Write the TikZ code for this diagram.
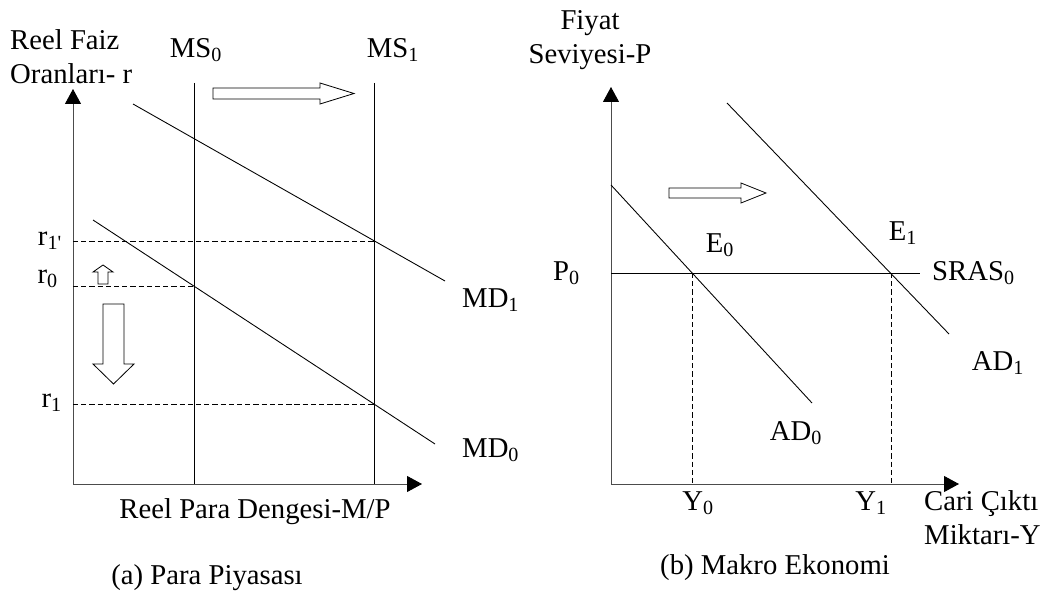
\documentclass[tikz,border=0pt]{standalone}
\usepackage{fontspec}
\setmainfont{Liberation Serif}
\usetikzlibrary{arrows.meta}
\tikzset{
    econ diagram/.style = {x=0.03cm, y=-0.03cm,
                           >={Triangle[length=0.45cm, width=0.48cm, color=black]}},
    axis/.style         = {draw=black!70, line width=0.8pt},
    curve/.style        = {line width=0.75pt},
    guide/.style        = {line width=0.7pt, dash pattern=on 4.5pt off 2.5pt},
    hollow/.style       = {draw, fill=white, line width=0.7pt, line join=miter},
    lbl/.style          = {font=\fontsize{24.5pt}{29pt}\selectfont,
                           inner sep=0pt}
}

\begin{document}
\begin{tikzpicture}[econ diagram]
\useasboundingbox (0,0) rectangle (1062,597);

% ================= (a) money market =================
\coordinate (ayTip) at (73,89);
\coordinate (axTip) at (422,484);
\draw[axis, <->] (ayTip) |- (axTip);

% money supply, before and after the shift
\coordinate (ms0top) at (194,83);  \coordinate (ms0bot) at (194,484);
\coordinate (ms1top) at (374,83);  \coordinate (ms1bot) at (374,484);
\draw[curve] (ms0top) -- (ms0bot);
\draw[curve] (ms1top) -- (ms1bot);
\node[lbl] (MS0) at (196,50) {MS\textsubscript{0}};
\node[lbl] (MS1) at (393,50) {MS\textsubscript{1}};

% money demand
\coordinate (md1a) at (133,104);  \coordinate (md1b) at (445,281);
\coordinate (md0a) at (93,220);   \coordinate (md0b) at (435,444);
\draw[curve] (md1a) -- (md1b);
\draw[curve] (md0a) -- (md0b);
\node[lbl, anchor=west] (MD1) at (462,300) {MD\textsubscript{1}};
\node[lbl, anchor=west] (MD0) at (462,450) {MD\textsubscript{0}};

% equilibrium rates
\coordinate (r1pA) at (73,241);  \coordinate (r1pB) at (374,241);
\coordinate (r0A)  at (73,286);  \coordinate (r0B)  at (194,286);
\coordinate (r1A)  at (73,404);  \coordinate (r1B)  at (374,404);
\draw[guide] (r1pA) -- (r1pB);
\draw[guide] (r0A) -- (r0B);
\draw[guide] (r1A) -- (r1B);
\node[lbl, anchor=east] (r1p) at (62,241) {r\textsubscript{1\textquotesingle}};
\node[lbl, anchor=east] (r0)  at (58,279) {r\textsubscript{0}};
\node[lbl, anchor=east] (r1)  at (62,403) {r\textsubscript{1}};

% shift arrows
\draw[hollow] (213,88) -- (320,88) -- (320,83) -- (354,93.5)
    -- (320,104) -- (320,99) -- (213,99) -- cycle;          % MS0 -> MS1
\draw[hollow] (98,284) -- (98,272) -- (93,272) -- (103,265)
    -- (113,272) -- (108,272) -- (108,284) -- cycle;        % r0 -> r1'
\draw[hollow] (103,304) -- (124,304) -- (124,364) -- (134,364)
    -- (113.5,384) -- (93,364) -- (103,364) -- cycle;       % r0 -> r1

\node[lbl, anchor=west, align=left] (rAxis) at (10,57)
    {Reel Faiz\\Oranları- r};
\node[lbl] (mAxis) at (255,512) {Reel Para Dengesi-M/P};
\node[lbl] (capA)  at (207,578) {(a) Para Piyasası};

% ================= (b) macro economy =================
\coordinate (byTip) at (611,87);
\coordinate (bxTip) at (959,484);
\draw[axis, <->] (byTip) |- (bxTip);

% short-run aggregate supply
\coordinate (srasA) at (611,273);  \coordinate (srasB) at (920,273);
\draw[curve] (srasA) -- (srasB);
\node[lbl, anchor=west] (SRAS) at (932,273) {SRAS\textsubscript{0}};
\node[lbl, anchor=east] (P0)   at (580,273) {P\textsubscript{0}};

% aggregate demand
\coordinate (ad0a) at (611,185);  \coordinate (ad0b) at (812,403);
\coordinate (ad1a) at (727,103);  \coordinate (ad1b) at (949,334);
\draw[curve] (ad0a) -- (ad0b);
\draw[curve] (ad1a) -- (ad1b);
\node[lbl] (AD0) at (796,433) {AD\textsubscript{0}};
\node[lbl] (AD1) at (998,363) {AD\textsubscript{1}};
\node[lbl] (E0)  at (720,245) {E\textsubscript{0}};
\node[lbl] (E1)  at (903,233) {E\textsubscript{1}};

% output levels
\coordinate (y0top) at (692,273);  \coordinate (y0bot) at (692,484);
\coordinate (y1top) at (891,273);  \coordinate (y1bot) at (891,484);
\draw[guide] (y0top) -- (y0bot);
\draw[guide] (y1top) -- (y1bot);
\node[lbl] (Y0) at (698,503) {Y\textsubscript{0}};
\node[lbl] (Y1) at (871,503) {Y\textsubscript{1}};

% demand shift arrow
\draw[hollow] (669,188) -- (741,188) -- (741,183) -- (766,193)
    -- (741,203) -- (741,198) -- (669,198) -- cycle;

\node[lbl, align=center] (pAxis) at (590,40) {Fiyat\\Seviyesi-P};
\node[lbl, anchor=west, align=left] (yAxis) at (924,518)
    {Cari Çıktı\\Miktarı-Y};
\node[lbl] (capB) at (775,568) {(b) Makro Ekonomi};

\end{tikzpicture}
\end{document}
